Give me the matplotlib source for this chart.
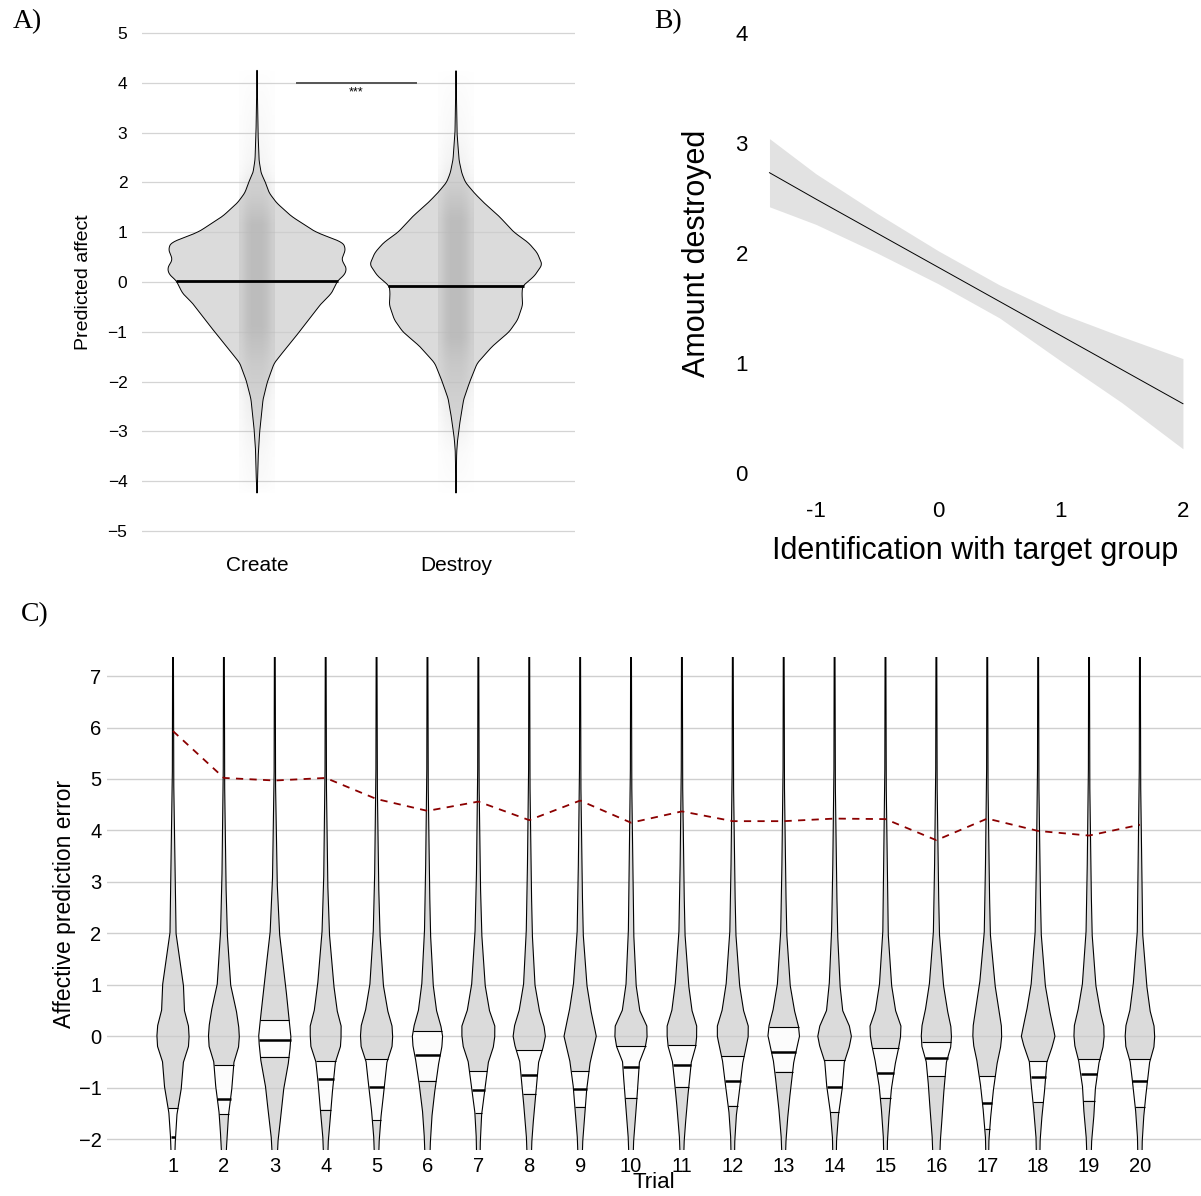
import numpy as np
import matplotlib

matplotlib.use("Agg")
import matplotlib.pyplot as plt

W, H = 1201, 1196

# ---- panel A: predicted affect by condition (violin profiles)
groups = ["Create", "Destroy"]
create_y = [4.25, 3.0, 2.45, 2.19, 2.0, 1.79, 1.59, 1.32, 1.0, 0.79, 0.65, 0.45, 0.28,
            0.15, 0.03, -0.23, -0.43, -1.0, -1.29, -1.63, -2.0, -2.35, -3.0, -3.42,
            -4.0, -4.23]
create_dens = [0, 3, 6, 12, 25, 36, 58, 102, 175, 256, 263, 251, 266,
               261, 240, 221, 191, 126, 91, 51, 31, 18, 8, 4, 2, 0]
destroy_y = [4.24, 3.0, 2.45, 2.19, 2.0, 1.79, 1.59, 1.32, 1.0, 0.79, 0.59, 0.35, 0.12,
             -0.08, -0.23, -0.46, -0.76, -1.0, -1.29, -1.63, -2.0, -2.35, -2.75,
             -3.15, -3.42, -4.23]
destroy_dens = [0, 3, 9, 17, 28, 54, 83, 128, 172, 215, 241, 256, 233,
                198, 196, 198, 183, 158, 108, 63, 41, 23, 13, 5, 2, 0]
medians = [0.03, -0.08]

# ---- panel B: amount destroyed vs identification (fit + 95% CI)
ident_x = [-1.38, -1.0, -0.5, 0.0, 0.5, 1.0, 1.5, 2.0]
fit_y = [2.73, 2.49, 2.18, 1.87, 1.56, 1.25, 0.94, 0.63]
ci_hi = [3.04, 2.72, 2.36, 2.02, 1.71, 1.45, 1.24, 1.04]
ci_lo = [2.42, 2.26, 2.00, 1.72, 1.41, 1.02, 0.64, 0.22]

# ---- panel C: affective prediction error per trial
trials = list(range(1, 21))
trial_levels = [-2.4, -2.0, -1.5, -1.0, -0.5, -0.2, 0.0, 0.2, 0.5, 1.0, 2.0, 3.0, 5.0, 7.5]
trial_dens = [
    [5, 7, 12, 25, 31, 46, 48, 46, 34, 31, 9, 7, 2, 1.2],
    [6, 9, 14, 24, 30, 44, 46, 44, 37, 20, 10, 6, 2, 1.2],
    [7, 10, 19, 27, 41, 46, 48, 45, 40, 32, 14, 7, 2, 1.2],
    [6, 8, 15, 21, 29, 44, 46, 46, 34, 24, 11, 6, 2, 1.2],
    [6, 8, 14, 23, 31, 46, 48, 46, 33, 20, 10, 6, 2, 1.2],
    [7, 9, 14, 23, 34, 43, 45, 40, 27, 17, 9, 6, 2, 1.2],
    [5, 6, 10, 20, 30, 45, 49, 49, 33, 20, 10, 6, 2, 1.2],
    [6, 8, 14, 21, 28, 42, 48, 44, 30, 17, 9, 6, 2, 1.2],
    [6, 8, 14, 20, 30, 41, 48, 42, 32, 20, 9, 6, 2, 1.2],
    [6, 8, 14, 20, 25, 43, 48, 47, 26, 15, 8, 6, 2, 1.2],
    [5, 7, 13, 20, 28, 41, 44, 44, 30, 20, 9, 6, 2, 1.2],
    [5, 6, 11, 21, 30, 40, 46, 46, 32, 20, 9, 6, 2, 1.2],
    [5, 7, 13, 21, 30, 40, 47, 44, 32, 19, 9, 6, 2, 1.2],
    [5, 6, 12, 23, 29, 44, 50, 44, 24, 16, 9, 6, 2, 1.2],
    [5, 6, 11, 18, 30, 40, 45, 46, 30, 18, 8, 6, 2, 1.2],
    [10, 12, 18, 23, 30, 43, 45, 43, 33, 21, 9, 6, 2, 1.2],
    [4, 5, 11, 19, 30, 40, 43, 42, 35, 23, 9, 6, 2, 1.2],
    [5, 6, 12, 20, 26, 42, 50, 44, 34, 21, 9, 6, 2, 1.2],
    [6, 8, 15, 19, 30, 42, 45, 44, 33, 20, 9, 6, 2, 1.2],
    [6, 7, 12, 20, 29, 42, 44, 42, 30, 20, 8, 6, 2, 1.2],
]
q_hi = [-1.39, -0.55, 0.32, -0.49, -0.45, 0.10, -0.68, -0.26, -0.68, -0.19,
        -0.17, -0.38, 0.18, -0.46, -0.22, -0.12, -0.78, -0.48, -0.45, -0.45]
q_mid = [-1.96, -1.21, -0.08, -0.84, -0.98, -0.37, -1.05, -0.75, -1.02, -0.59,
         -0.55, -0.86, -0.30, -0.99, -0.71, -0.42, -1.30, -0.80, -0.74, -0.87]
q_lo = [-2.38, -1.52, -0.40, -1.43, -1.63, -0.86, -1.50, -1.12, -1.37, -1.19,
        -0.99, -1.35, -0.69, -1.48, -1.19, -0.78, -1.80, -1.28, -1.25, -1.37]
mean_error = [5.93, 5.02, 4.97, 5.02, 4.61, 4.38, 4.56, 4.20, 4.58, 4.15,
              4.37, 4.18, 4.18, 4.23, 4.22, 3.81, 4.23, 3.99, 3.90, 4.11]

plt.rcParams["font.family"] = ["Liberation Sans", "DejaVu Sans"]
SERIF = ["Liberation Serif", "DejaVu Serif"]


def px_rect(left, top, right, bottom):
    return [left / W, 1 - bottom / H, (right - left) / W, (bottom - top) / H]


def bare(ax):
    for s in ax.spines.values():
        s.set_visible(False)
    ax.tick_params(length=0)


fig = plt.figure(figsize=(W / 100, H / 100), dpi=100)

# ---------------- A
axA = fig.add_axes(px_rect(142, 18, 575, 546))
bare(axA)
axA.yaxis.grid(True, color="#d4d4d4", lw=0.9)
axA.set_axisbelow(True)
dmax = max(max(create_dens), max(destroy_dens))
k = 9
for pos, ys, ds, med in zip([1, 2], [create_y, destroy_y],
                            [create_dens, destroy_dens], medians):
    ys = np.asarray(ys, float)
    ds = np.asarray(ds, float) / dmax
    order = np.argsort(ys)
    grid = np.linspace(ys.min(), ys.max(), 600)
    rel = np.interp(grid, ys[order], ds[order])
    rel = np.convolve(np.pad(rel, k // 2, mode="edge"), np.ones(k) / k, mode="valid")
    hw = 0.45 * rel
    axA.fill_betweenx(grid, pos - hw, pos + hw, facecolor="#cccccc", alpha=0.7,
                      edgecolor="none", zorder=2)
    # jittered points drawn as a density-shaded strip
    weights = np.array([0.45, 0.8, 1, 1, 1, 0.8, 0.45])
    rgba = np.zeros((len(grid), len(weights), 4))
    rgba[..., :3] = 0.72
    rgba[..., 3] = np.clip(rel ** 0.6 * 1.25, 0, 0.85)[:, None] * weights[None, :]
    axA.imshow(rgba, extent=[pos - 0.09, pos + 0.09, grid.min(), grid.max()],
               origin="lower", aspect="auto", interpolation="bilinear", zorder=3)
    axA.plot(np.r_[pos - hw, (pos + hw)[::-1]], np.r_[grid, grid[::-1]],
             color="black", lw=0.7, zorder=4)
    mh = 0.45 * np.interp(med, grid, rel)
    axA.plot([pos - mh, pos + mh], [med, med], color="black", lw=2,
             solid_capstyle="butt", zorder=5)
axA.plot([1.2, 1.8], [4, 4], color="#555555", lw=1.4, zorder=5)
axA.text(1.5, 3.8, "***", ha="center", va="center", fontsize=9)
axA.set_xlim(0.422, 2.598)
axA.set_ylim(-5.3, 5.3)
axA.set_yticks(range(-5, 6))
axA.set_xticks([1, 2], groups)
axA.tick_params(axis="y", labelsize=12.5, pad=10.5)
axA.tick_params(axis="x", labelsize=15, pad=7)
axA.set_ylabel("Predicted affect", fontsize=14, va="center")
axA.yaxis.set_label_coords((83 - 142) / (575 - 142), 0.5)

# ---------------- B
axB = fig.add_axes(px_rect(764.6, 14.3, 1186.6, 491.7))
bare(axB)
axB.fill_between(ident_x, ci_lo, ci_hi, color="#e2e2e2", lw=0)
axB.plot(ident_x, fit_y, color="black", lw=0.7)
axB.set_xlim(-1.42, 2.03)
axB.set_ylim(-0.17, 4.17)
axB.set_xticks([-1, 0, 1, 2], ["-1", "0", "1", "2"])
axB.set_yticks(range(5))
axB.tick_params(axis="y", labelsize=16, pad=12)
axB.tick_params(axis="x", labelsize=16, pad=7)
axB.set_ylabel("Amount destroyed", fontsize=22, va="center")
axB.yaxis.set_label_coords((697 - 764.6) / (1186.6 - 764.6), 0.5)
axB.set_xlabel("Identification with target group", fontsize=22, va="center")
axB.xaxis.set_label_coords(0.5, (491.7 - 551) / (491.7 - 14.3))

# ---------------- C
axC = fig.add_axes(px_rect(107, 657, 1201, 1150))
bare(axC)
axC.yaxis.grid(True, color="#cfcfcf", lw=1.0)
axC.set_axisbelow(True)
lv = np.asarray(trial_levels, float)
gridC = np.linspace(lv.min(), lv.max(), 900)
dmaxC = max(max(r) for r in trial_dens)
for i, t in enumerate(trials):
    d = np.asarray(trial_dens[i], float) / dmaxC
    hw = 0.33 * np.interp(gridC, lv, d)
    axC.fill_betweenx(gridC, t - hw, t + hw, facecolor="#cccccc", alpha=0.7,
                      edgecolor="none", zorder=2)
    m = (gridC >= q_lo[i]) & (gridC <= q_hi[i])
    axC.fill_betweenx(gridC[m], t - hw[m], t + hw[m], facecolor="#fcfcfc",
                      edgecolor="none", zorder=3)
    axC.plot(np.r_[t - hw, (t + hw)[::-1]], np.r_[gridC, gridC[::-1]],
             color="black", lw=0.8, zorder=4)
    for q, lw in ((q_lo[i], 0.8), (q_mid[i], 1.8), (q_hi[i], 0.8)):
        h = 0.33 * np.interp(q, lv, d)
        axC.plot([t - h, t + h], [q, q], color="black", lw=lw,
                 solid_capstyle="butt", zorder=5)
axC.plot(trials, mean_error, color="#8b0000", lw=1.3, ls=(0, (4, 3.5)), zorder=6)
axC.set_xlim(-0.297, 21.2)
axC.set_ylim(-2.21, 7.37)
axC.set_yticks(range(-2, 8))
axC.set_xticks(trials)
axC.tick_params(axis="y", labelsize=14.5, pad=4)
axC.tick_params(axis="x", labelsize=14.5, pad=5)
axC.set_ylabel("Affective prediction error", fontsize=16.5, va="center")
axC.yaxis.set_label_coords((65 - 107) / (1201 - 107), 0.5)
axC.set_xlabel("Trial", fontsize=16, va="center")
axC.xaxis.set_label_coords(0.5, (1150 - 1183) / (1150 - 657))

# panel letters
for lab, x, y in (("A)", 27, 22), ("B)", 668, 22), ("C)", 35, 615)):
    fig.text(x / W, 1 - y / H, lab, family=SERIF, fontsize=20, ha="center", va="center")

fig.savefig("out.png", dpi=100)
